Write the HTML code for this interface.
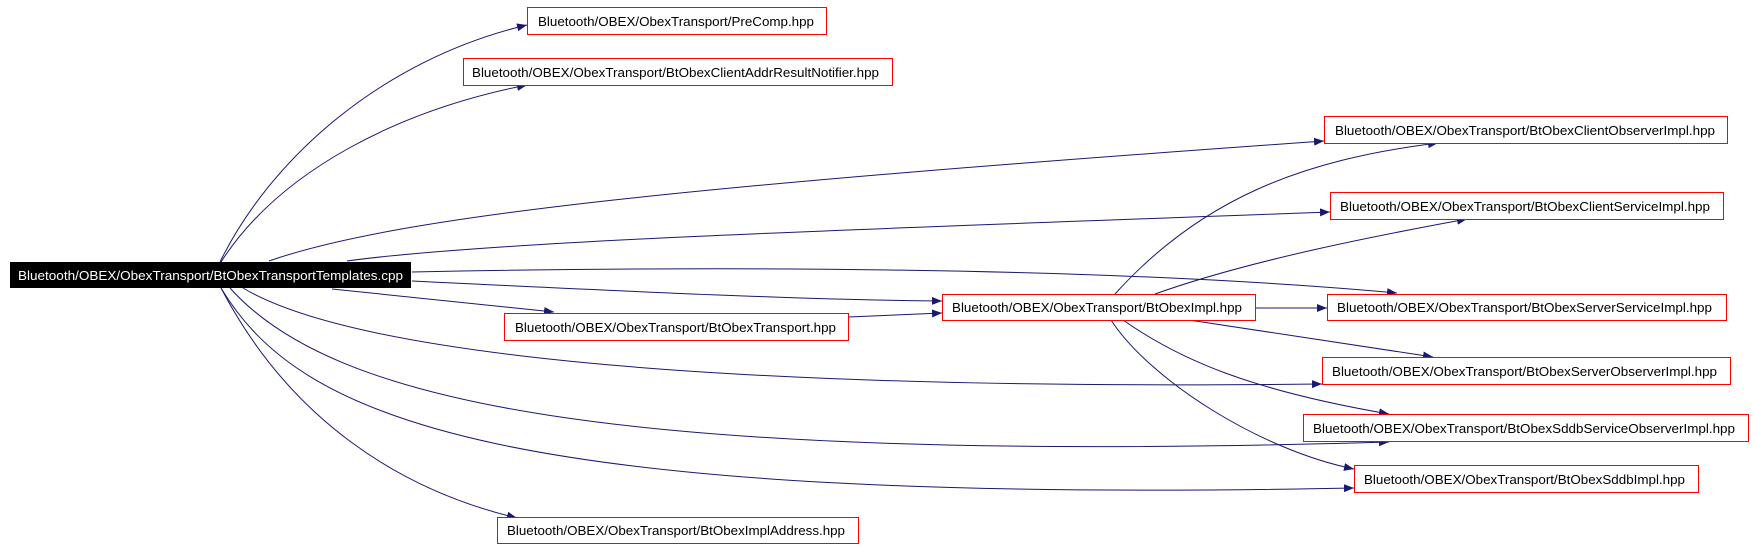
<!DOCTYPE html>
<html><head><meta charset="utf-8"><style>
html,body{margin:0;padding:0;background:#fff;}
svg{display:block;}
text{font-family:"Liberation Sans",sans-serif;font-size:13px;}
</style></head><body>
<svg width="1755" height="547" viewBox="0 0 1755 547" xmlns="http://www.w3.org/2000/svg">
<defs>
<marker id="a" viewBox="0 0 10 8" refX="10" refY="4" markerWidth="10" markerHeight="8" markerUnits="userSpaceOnUse" orient="auto">
<path d="M0,0 L10,4 L0,8 z" fill="#191970"/>
</marker>
</defs>
<g fill="none" stroke="#191970" stroke-width="1" marker-end="url(#a)">
<path d="M220,262 C270,160 380,60 527,25"/>
<path d="M221,262 C280,170 400,110 527,85"/>
<path d="M269,261 C400,215 700,185 1324,141"/>
<path d="M347,261 C500,240 900,228 1330,212"/>
<path d="M412,272 C700,266 1100,266 1397,293"/>
<path d="M412,281 C600,290 800,300 942,301"/>
<path d="M332,289 L554,312"/>
<path d="M848,317 C870,316 900,315 942,313"/>
<path d="M243,288 C330,340 600,392 1322,384"/>
<path d="M230,288 C330,400 600,465 1389,442"/>
<path d="M221,288 C300,420 500,505 1354,488"/>
<path d="M221,288 C290,420 400,490 517,518"/>
<path d="M1115,294 C1200,200 1300,160 1438,143"/>
<path d="M1155,294 C1250,260 1380,235 1467,219"/>
<path d="M1255,308 L1327,308"/>
<path d="M1189,320 L1433,357"/>
<path d="M1123,320 C1180,360 1250,390 1389,414"/>
<path d="M1111,320 C1150,380 1260,450 1354,469"/>
</g>
<rect x="10" y="262" width="401" height="26" fill="#000"/>
<text x="18" y="280" fill="#fff" textLength="385" lengthAdjust="spacingAndGlyphs">Bluetooth/OBEX/ObexTransport/BtObexTransportTemplates.cpp</text>
<g fill="#fff" stroke="#ff0000" stroke-width="1">
<rect x="527.5" y="7.5" width="299" height="27"/>
<rect x="463.5" y="58.5" width="429" height="27"/>
<rect x="504.5" y="313.5" width="344" height="27"/>
<rect x="497.5" y="517.5" width="361" height="26"/>
<rect x="1324.5" y="116.5" width="403" height="27"/>
<rect x="1330.5" y="192.5" width="393" height="27"/>
<rect x="942.5" y="294.5" width="313" height="26"/>
<rect x="1327.5" y="294.5" width="399" height="26"/>
<rect x="1322.5" y="357.5" width="408" height="27"/>
<rect x="1303.5" y="414.5" width="445" height="27"/>
<rect x="1354.5" y="465.5" width="344" height="27"/>
</g>
<g fill="#000">
<text x="538" y="26" textLength="276" lengthAdjust="spacingAndGlyphs">Bluetooth/OBEX/ObexTransport/PreComp.hpp</text>
<text x="472" y="77" textLength="407" lengthAdjust="spacingAndGlyphs">Bluetooth/OBEX/ObexTransport/BtObexClientAddrResultNotifier.hpp</text>
<text x="515" y="332" textLength="321" lengthAdjust="spacingAndGlyphs">Bluetooth/OBEX/ObexTransport/BtObexTransport.hpp</text>
<text x="507" y="535" textLength="338" lengthAdjust="spacingAndGlyphs">Bluetooth/OBEX/ObexTransport/BtObexImplAddress.hpp</text>
<text x="1335" y="135" textLength="380" lengthAdjust="spacingAndGlyphs">Bluetooth/OBEX/ObexTransport/BtObexClientObserverImpl.hpp</text>
<text x="1340" y="211" textLength="370" lengthAdjust="spacingAndGlyphs">Bluetooth/OBEX/ObexTransport/BtObexClientServiceImpl.hpp</text>
<text x="952" y="312" textLength="290" lengthAdjust="spacingAndGlyphs">Bluetooth/OBEX/ObexTransport/BtObexImpl.hpp</text>
<text x="1337" y="312" textLength="375" lengthAdjust="spacingAndGlyphs">Bluetooth/OBEX/ObexTransport/BtObexServerServiceImpl.hpp</text>
<text x="1332" y="376" textLength="385" lengthAdjust="spacingAndGlyphs">Bluetooth/OBEX/ObexTransport/BtObexServerObserverImpl.hpp</text>
<text x="1313" y="433" textLength="422" lengthAdjust="spacingAndGlyphs">Bluetooth/OBEX/ObexTransport/BtObexSddbServiceObserverImpl.hpp</text>
<text x="1364" y="484" textLength="321" lengthAdjust="spacingAndGlyphs">Bluetooth/OBEX/ObexTransport/BtObexSddbImpl.hpp</text>
</g>
</svg>
</body></html>
